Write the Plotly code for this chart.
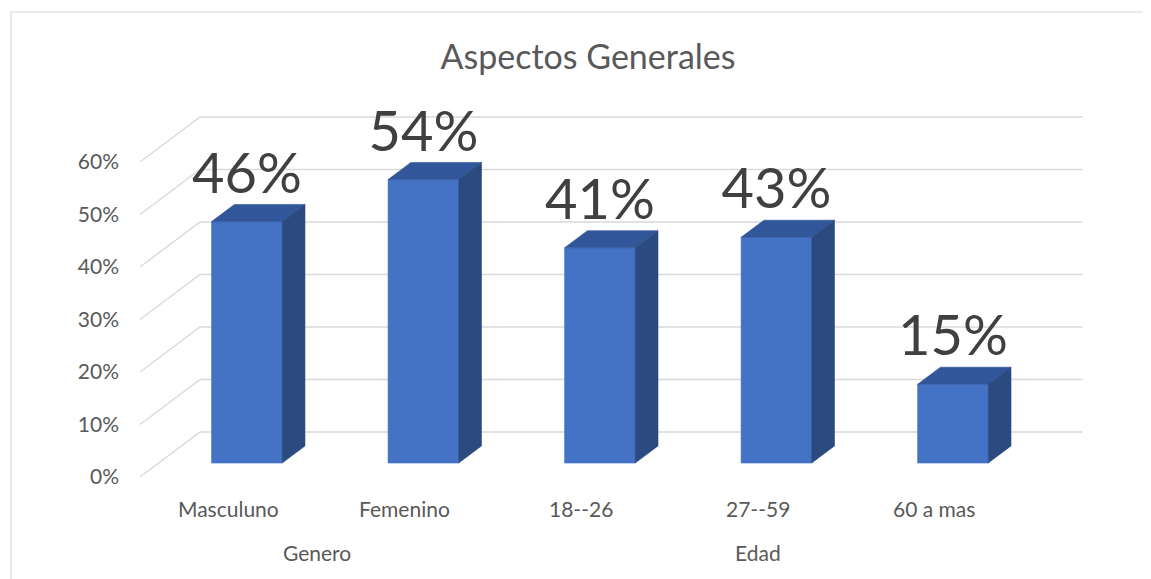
import plotly.graph_objects as go

# ---- data ----
categories = ["Masculuno", "Femenino", "18--26", "27--59", "60 a mas"]
values = [46, 54, 41, 43, 15]
groups = ["Genero", "Edad"]
group_spans = [(0, 2), (2, 5)]  # category index ranges for each group
tick_values = [0, 10, 20, 30, 40, 50, 60]
tick_labels = [f"{v}%" for v in tick_values]

# ---- 3D projection style constants ----
DX = 0.34      # depth shift in x (category units) for full depth
DY = 8.571     # depth shift in y (percent units) for full depth
D1, D2 = 0.31, 0.69   # bar front/back depth fractions
W = 0.2        # bar half-width (category units)
LABEL_UP = 8.2

FONT = "Lato"
C_FRONT = "#4472C4"
C_TOP = "#32569A"
C_SIDE = "#2A4A80"
C_GRID = "#D9D9D9"

FW, FH = 1143, 571
ML, MT, PW, PH = 132, 92, 950, 390

fig = go.Figure()

# gridlines: back wall + left wall diagonals
gx, gy = [], []
n = len(categories)
for v in tick_values:
    gx += [0, DX, n + DX, None]
    gy += [v, v + DY, v + DY, None]
fig.add_trace(go.Scatter(x=gx, y=gy, mode="lines", line=dict(color=C_GRID, width=1.4),
                         hoverinfo="skip", showlegend=False))

def poly(xs, ys, color):
    fig.add_trace(go.Scatter(x=xs + [xs[0]], y=ys + [ys[0]], mode="lines", fill="toself",
                             fillcolor=color, line=dict(color=color, width=0.6),
                             hoverinfo="skip", showlegend=False))

for i, v in enumerate(values):
    cx = i + 0.5
    xl, xr = cx - W, cx + W
    # front face
    poly([xl + D1 * DX, xr + D1 * DX, xr + D1 * DX, xl + D1 * DX],
         [D1 * DY, D1 * DY, v + D1 * DY, v + D1 * DY], C_FRONT)
    # top face
    poly([xl + D1 * DX, xr + D1 * DX, xr + D2 * DX, xl + D2 * DX],
         [v + D1 * DY, v + D1 * DY, v + D2 * DY, v + D2 * DY], C_TOP)
    # side face
    poly([xr + D1 * DX, xr + D2 * DX, xr + D2 * DX, xr + D1 * DX],
         [D1 * DY, D2 * DY, v + D2 * DY, v + D1 * DY], C_SIDE)

# data labels
fig.add_trace(go.Scatter(
    x=[i + 0.5 + D1 * DX for i in range(n)],
    y=[v + D1 * DY + LABEL_UP for v in values],
    mode="text", text=[f"{v}%" for v in values], textposition="middle center",
    textfont=dict(family=FONT, size=56, color="#404040"),
    hoverinfo="skip", showlegend=False, cliponaxis=False))

annotations = []
for i, c in enumerate(categories):
    annotations.append(dict(x=i + 0.5, y=-0.0462, xref="x", yref="paper", text=c,
                            showarrow=False, yanchor="middle", xanchor="center",
                            font=dict(family=FONT, size=21, color="#595959")))
for g, (a, b) in zip(groups, group_spans):
    annotations.append(dict(x=(a + b) / 2, y=-0.1615, xref="x", yref="paper", text=g,
                            showarrow=False, yanchor="middle", xanchor="center",
                            font=dict(family=FONT, size=21, color="#595959")))

fig.update_layout(
    width=FW, height=FH,
    margin=dict(l=ML, r=FW - ML - PW, t=MT, b=FH - MT - PH),
    paper_bgcolor="white", plot_bgcolor="white",
    title=dict(text="Aspectos Generales", x=580 / FW, xanchor="center",
               y=1 - 49 / FH, yanchor="middle",
               font=dict(family=FONT, size=34, color="#595959")),
    xaxis=dict(range=[0, 5.382], showgrid=False, zeroline=False, showticklabels=False,
               showline=False, fixedrange=True),
    yaxis=dict(range=[-2.476, 71.81], showgrid=False, zeroline=False, showline=False,
               tickvals=tick_values, ticktext=tick_labels, ticks="", ticklabelstandoff=20,
               tickfont=dict(family=FONT, size=21, color="#595959"), fixedrange=True),
    annotations=annotations,
    shapes=[dict(type="rect", xref="paper", yref="paper",
                 x0=(3 - ML) / PW, x1=(1200 - ML) / PW,
                 y0=(MT + PH - 640) / PH, y1=(MT + PH - 4) / PH,
                 line=dict(color="#D9D9D9", width=1.2), fillcolor="rgba(0,0,0,0)", layer="below")],
    showlegend=False,
)

fig.write_html("out.html")
